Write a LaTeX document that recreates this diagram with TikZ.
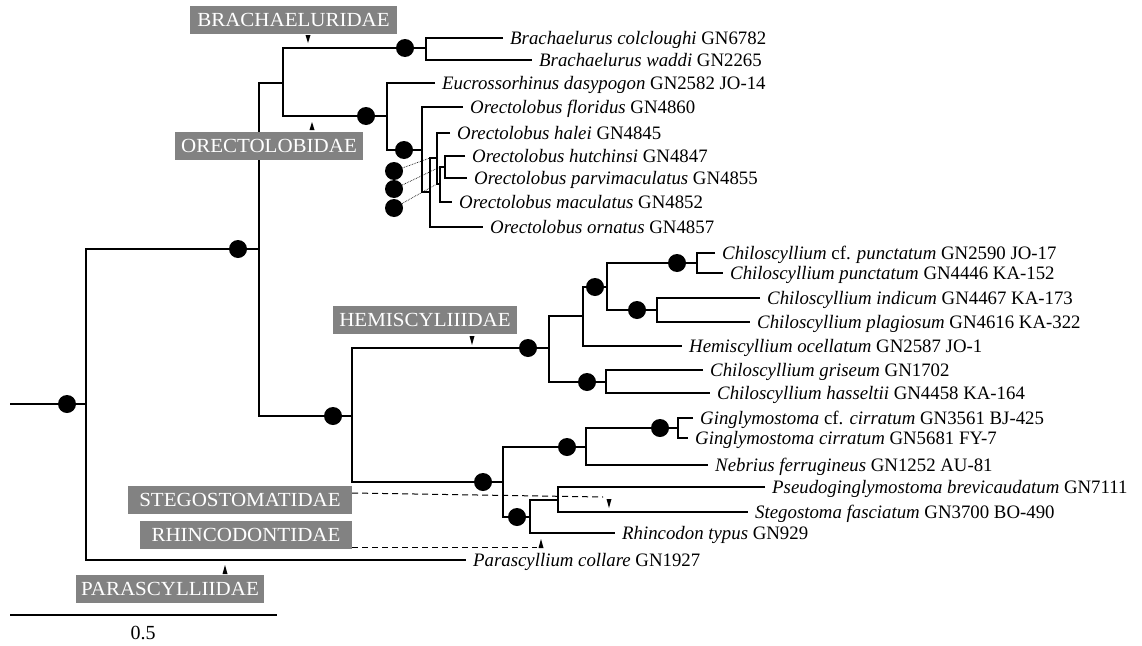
\documentclass[tikz,border=0pt]{standalone}
\usepackage{fontspec}
\setmainfont{Liberation Serif}
\newfontfamily\tipfont{Liberation Serif}[FakeStretch=0.99]
\newfontfamily\famfont{Liberation Serif}[FakeStretch=1.05]
\definecolor{famgray}{RGB}{130,130,130}
\begin{document}
\begin{tikzpicture}[x=1pt,y=-1pt,
  br/.style={line width=1.4pt},
  bsdot/.style={circle,fill=black,inner sep=0pt,minimum size=18pt},
  leaf/.style={anchor=west,inner xsep=7pt,inner ysep=0pt,text height=13pt,text depth=0pt,
               font=\tipfont\fontsize{19}{21}\selectfont},
  fam/.style={fill=famgray,text=white,inner sep=0pt,minimum height=28pt,
              font=\famfont\fontsize{20}{22}\selectfont},
  lead/.style={line width=1pt,dash pattern=on 6pt off 4pt},
  supp/.style={line width=0.7pt,densely dotted},
  pointer/.style={fill=black}
]
\useasboundingbox (0,0) rectangle (1142,645);

% ---------- taxon labels (west anchor = end of terminal branch) ----------
\node[leaf] (bcol) at (503,38)  {\textit{Brachaelurus colcloughi} GN6782};
\node[leaf] (bwad) at (532,60)  {\textit{Brachaelurus waddi} GN2265};
\node[leaf] (edas) at (435,83)  {\textit{Eucrossorhinus dasypogon} GN2582 JO-14};
\node[leaf] (oflo) at (463,107) {\textit{Orectolobus floridus} GN4860};
\node[leaf] (ohal) at (450,133) {\textit{Orectolobus halei} GN4845};
\node[leaf] (ohut) at (465,156) {\textit{Orectolobus hutchinsi} GN4847};
\node[leaf] (opar) at (467,178) {\textit{Orectolobus parvimaculatus} GN4855};
\node[leaf] (omac) at (452,202) {\textit{Orectolobus maculatus} GN4852};
\node[leaf] (oorn) at (483,227) {\textit{Orectolobus ornatus} GN4857};
\node[leaf] (ccfp) at (715,253) {\textit{Chiloscyllium} cf. \textit{punctatum} GN2590 JO-17};
\node[leaf] (cpun) at (723,273) {\textit{Chiloscyllium punctatum} GN4446 KA-152};
\node[leaf] (cind) at (760,298) {\textit{Chiloscyllium indicum} GN4467 KA-173};
\node[leaf] (cpla) at (750,322) {\textit{Chiloscyllium plagiosum} GN4616 KA-322};
\node[leaf] (hoce) at (682,346) {\textit{Hemiscyllium ocellatum} GN2587 JO-1};
\node[leaf] (cgri) at (703,370) {\textit{Chiloscyllium griseum} GN1702};
\node[leaf] (chas) at (710,393) {\textit{Chiloscyllium hasseltii} GN4458 KA-164};
\node[leaf] (gcfc) at (693,418) {\textit{Ginglymostoma} cf. \textit{cirratum} GN3561 BJ-425};
\node[leaf] (gcir) at (688,438) {\textit{Ginglymostoma cirratum} GN5681 FY-7};
\node[leaf] (nfer) at (708,465) {\textit{Nebrius ferrugineus} GN1252 AU-81};
\node[leaf] (pbre) at (765,487) {\textit{Pseudoginglymostoma brevicaudatum} GN7111};
\node[leaf] (sfas) at (748,512) {\textit{Stegostoma fasciatum} GN3700 BO-490};
\node[leaf] (rtyp) at (615,533) {\textit{Rhincodon typus} GN929};
\node[leaf] (pcol) at (466,560) {\textit{Parascyllium collare} GN1927};

% ---------- internal nodes (x of the vertical bar, y of the stem) ----------
\coordinate (root) at (10,404);
\coordinate (nR)  at (86,404);
\coordinate (nA)  at (259,249);
\coordinate (nB)  at (283,83);
\coordinate (nBr) at (426,48);
\coordinate (nOr) at (387,116);
\coordinate (nO1) at (422,150);
\coordinate (nO2) at (430,192);
\coordinate (nO3) at (437,158);
\coordinate (nO4) at (440,184);
\coordinate (nO5) at (445,167);
\coordinate (nC)  at (352,416);
\coordinate (nH)  at (549,348);
\coordinate (nH1) at (583,316);
\coordinate (nH2) at (607,287);
\coordinate (nH3) at (697,263);
\coordinate (nH4) at (657,310);
\coordinate (nH5) at (606,382);
\coordinate (nG)  at (503,482);
\coordinate (nG1) at (586,447);
\coordinate (nG2) at (678,428);
\coordinate (nS)  at (530,517);
\coordinate (nS1) at (558,500);

% ---------- branches ----------
\draw[br] (root) -- (nR);
\draw[br] (nA) -- (nA -| nR) -- (pcol.west -| nR) -- (pcol.west);
\draw[br] (nB) -- (nB -| nA) -- (nC -| nA) -- (nC);
\draw[br] (nBr) -- (nBr -| nB) -- (nOr -| nB) -- (nOr);
\draw[br] (bcol.west) -- (bcol.west -| nBr) -- (bwad.west -| nBr) -- (bwad.west);
\draw[br] (edas.west) -- (edas.west -| nOr) -- (nO1 -| nOr) -- (nO1);
\draw[br] (oflo.west) -- (oflo.west -| nO1) -- (nO2 -| nO1) -- (nO2);
\draw[br] (nO3) -- (nO3 -| nO2) -- (oorn.west -| nO2) -- (oorn.west);
\draw[br] (ohal.west) -- (ohal.west -| nO3) -- (nO4 -| nO3) -- (nO4);
\draw[br] (nO5) -- (nO5 -| nO4) -- (omac.west -| nO4) -- (omac.west);
\draw[br] (ohut.west) -- (ohut.west -| nO5) -- (opar.west -| nO5) -- (opar.west);
\draw[br] (nH) -- (nH -| nC) -- (nG -| nC) -- (nG);
\draw[br] (nH1) -- (nH1 -| nH) -- (nH5 -| nH) -- (nH5);
\draw[br] (nH2) -- (nH2 -| nH1) -- (hoce.west -| nH1) -- (hoce.west);
\draw[br] (nH3) -- (nH3 -| nH2) -- (nH4 -| nH2) -- (nH4);
\draw[br] (ccfp.west) -- (ccfp.west -| nH3) -- (cpun.west -| nH3) -- (cpun.west);
\draw[br] (cind.west) -- (cind.west -| nH4) -- (cpla.west -| nH4) -- (cpla.west);
\draw[br] (cgri.west) -- (cgri.west -| nH5) -- (chas.west -| nH5) -- (chas.west);
\draw[br] (nG1) -- (nG1 -| nG) -- (nS -| nG) -- (nS);
\draw[br] (nG2) -- (nG2 -| nG1) -- (nfer.west -| nG1) -- (nfer.west);
\draw[br] (gcfc.west) -- (gcfc.west -| nG2) -- (gcir.west -| nG2) -- (gcir.west);
\draw[br] (nS1) -- (nS1 -| nS) -- (rtyp.west -| nS) -- (rtyp.west);
\draw[br] (pbre.west) -- (pbre.west -| nS1) -- (sfas.west -| nS1) -- (sfas.west);

% ---------- support dots ----------
\node[bsdot] (s0)  at (67,404)  {};
\node[bsdot] (sA)  at (238,249) {};
\node[bsdot] (sBr) at (405,48)  {};
\node[bsdot] (sOr) at (366,116) {};
\node[bsdot] (sO1) at (404,150) {};
\node[bsdot] (sC)  at (333,416) {};
\node[bsdot] (sH)  at (528,348) {};
\node[bsdot] (sH2) at (595,287) {};
\node[bsdot] (sH3) at (677,263) {};
\node[bsdot] (sH4) at (637,310) {};
\node[bsdot] (sH5) at (587,382) {};
\node[bsdot] (sG)  at (483,482) {};
\node[bsdot] (sG1) at (567,447) {};
\node[bsdot] (sG2) at (660,428) {};
\node[bsdot] (sS)  at (517,517) {};
% dots for the short Orectolobus branches, with dotted leaders
\node[bsdot] (sO3) at (394,171) {};
\node[bsdot] (sO5) at (394,189) {};
\node[bsdot] (sO4) at (394,208) {};
\draw[supp] (sO3) -- (nO3 -| nO2);
\draw[supp] (sO5) -- (nO5 -| nO4);
\draw[supp] (sO4) -- (nO4 -| nO3);

% ---------- family labels ----------
\node[fam,minimum width=207pt] (brach) at (293.5,20)  {BRACHAELURIDAE};
\node[fam,minimum width=188pt] (orect) at (269,146)   {ORECTOLOBIDAE};
\node[fam,minimum width=184pt] (hemi)  at (425,319.5) {HEMISCYLIIIDAE};
\node[fam,minimum width=224pt] (stego) at (240,500)   {STEGOSTOMATIDAE};
\node[fam,minimum width=212pt] (rhinc) at (246,535)   {RHINCODONTIDAE};
\node[fam,minimum width=188pt] (paras) at (170,588.5) {PARASCYLLIIDAE};

% pointers from the labels to their branches
\coordinate (stegoEnd) at (603,497);
\coordinate (rhincEnd) at (537,547);
\draw[lead] ([yshift=7pt]stego.east) -- (stegoEnd);
\draw[lead] ([yshift=-12pt]rhinc.east) -- (rhincEnd);
\fill[pointer] (305.5,35) -- (310.5,35) -- (308,43) -- cycle;
\fill[pointer] (309.5,130) -- (314.5,130) -- (312,122) -- cycle;
\fill[pointer] (469.5,336) -- (474.5,336) -- (472,345) -- cycle;
\fill[pointer] (606.5,499) -- (611.5,499) -- (609,508) -- cycle;
\fill[pointer] (538.5,548) -- (543.5,548) -- (541,539) -- cycle;
\fill[pointer] (222.5,574) -- (227.5,574) -- (225,565) -- cycle;

% ---------- scale bar ----------
\coordinate (sb0) at (10,615);
\coordinate (sb1) at (277,615);
\draw[line width=1.2pt] (sb0) -- (sb1);
\node[font=\fontsize{20}{22}\selectfont] (sblab) at (143,633) {0.5};
\end{tikzpicture}
\end{document}
